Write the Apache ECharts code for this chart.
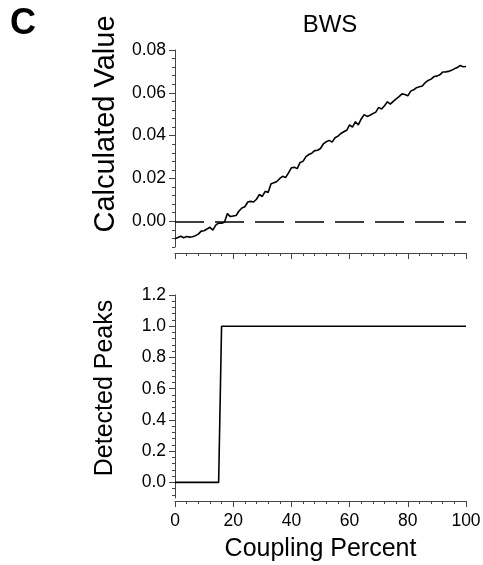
<!DOCTYPE html>
<html>
<head>
<meta charset="utf-8">
<style>
  html, body { margin: 0; padding: 0; background: #fff; }
  #chart { width: 483px; height: 565px; }
</style>
<script src="https://cdn.jsdelivr.net/npm/echarts@6/dist/echarts.min.js"></script>
</head>
<body>
<div id="chart"></div>
<script>
// coupling percent (x) shared by both panels
const couplingPercent = [
  0, 1, 2, 3, 4, 5, 6, 7, 8, 9, 10, 11, 12, 13, 14, 15, 16, 17, 18, 19,
  20, 21, 22, 23, 24, 25, 26, 27, 28, 29, 30, 31, 32, 33, 34, 35, 36, 37, 38, 39,
  40, 41, 42, 43, 44, 45, 46, 47, 48, 49, 50, 51, 52, 53, 54, 55, 56, 57, 58, 59,
  60, 61, 62, 63, 64, 65, 66, 67, 68, 69, 70, 71, 72, 73, 74, 75, 76, 77, 78, 79,
  80, 81, 82, 83, 84, 85, 86, 87, 88, 89, 90, 91, 92, 93, 94, 95, 96, 97, 98, 99, 100
];
// BWS calculated value
const calculatedValue = [
  -0.0081, -0.0076, -0.0070, -0.0077, -0.0071, -0.0074, -0.0072, -0.0067, -0.0060, -0.0046,
  -0.0044, -0.0036, -0.0028, -0.0041, -0.0018, -0.0008, -0.0009, -0.0004, 0.0036, 0.0022,
  0.0025, 0.0027, 0.0048, 0.0062, 0.0068, 0.0090, 0.0093, 0.0090, 0.0103, 0.0125,
  0.0116, 0.0140, 0.0135, 0.0175, 0.0180, 0.0186, 0.0200, 0.0210, 0.0204, 0.0226,
  0.0250, 0.0252, 0.0246, 0.0275, 0.0280, 0.0302, 0.0312, 0.0318, 0.0330, 0.0332,
  0.0340, 0.0362, 0.0372, 0.0378, 0.0370, 0.0390, 0.0398, 0.0410, 0.0418, 0.0425,
  0.0450, 0.0440, 0.0465, 0.0450, 0.0478, 0.0498, 0.0490, 0.0495, 0.0503, 0.0510,
  0.0532, 0.0524, 0.0540, 0.0558, 0.0547, 0.0560, 0.0572, 0.0582, 0.0595, 0.0592,
  0.0586, 0.0608, 0.0614, 0.0624, 0.0628, 0.0632, 0.0648, 0.0658, 0.0664, 0.0676,
  0.0678, 0.0684, 0.0697, 0.0698, 0.0700, 0.0705, 0.0712, 0.0718, 0.0728, 0.0722, 0.0723
];
// detected peaks
const detectedPeaks = [
  0, 0, 0, 0, 0, 0, 0, 0, 0, 0, 0, 0, 0, 0, 0, 0, 1, 1, 1, 1,
  1, 1, 1, 1, 1, 1, 1, 1, 1, 1, 1, 1, 1, 1, 1, 1, 1, 1, 1, 1,
  1, 1, 1, 1, 1, 1, 1, 1, 1, 1, 1, 1, 1, 1, 1, 1, 1, 1, 1, 1,
  1, 1, 1, 1, 1, 1, 1, 1, 1, 1, 1, 1, 1, 1, 1, 1, 1, 1, 1, 1,
  1, 1, 1, 1, 1, 1, 1, 1, 1, 1, 1, 1, 1, 1, 1, 1, 1, 1, 1, 1, 1
];

// tick labels
const xTicks = [0, 20, 40, 60, 80, 100];
const topYTicks = [0, 0.02, 0.04, 0.06, 0.08];
const bottomYTicks = [0, 0.2, 0.4, 0.6, 0.8, 1.0, 1.2];

// minor ticks
const topYMinor = [];
for (let i = -3; i <= 20; i++) topYMinor.push(+(i * 0.004).toFixed(3));
const bottomYMinor = [];
for (let i = -2; i <= 30; i++) bottomYMinor.push(+(i * 0.04).toFixed(2));

const FONT = "Liberation Sans, Arial, Helvetica, sans-serif";
const AXIS_COLOR = "#444";

const chart = echarts.init(document.getElementById("chart"));

function xAxisCfg(gridIndex, offset, showLabel) {
  return {
    gridIndex: gridIndex,
    type: "value",
    position: "bottom",
    min: 0,
    max: 100,
    interval: 20,
    offset: offset,
    axisLine: { show: true, onZero: false, lineStyle: { color: AXIS_COLOR, width: 1 } },
    axisTick: { show: true, length: 6, lineStyle: { color: AXIS_COLOR } },
    minorTick: { show: true, splitNumber: 5, length: 3, lineStyle: { color: AXIS_COLOR } },
    axisLabel: {
      show: showLabel,
      customValues: xTicks,
      color: "#000",
      fontFamily: FONT,
      fontSize: 17.5,
      margin: 11,
    },
    splitLine: { show: false },
  };
}

function yAxisCfg(gridIndex, min, max, ticks, decimals) {
  return {
    gridIndex: gridIndex,
    type: "value",
    position: "left",
    min: min,
    max: max,
    axisLine: { show: true, onZero: false, lineStyle: { color: AXIS_COLOR, width: 1 } },
    axisTick: { show: true, length: 6, customValues: ticks, lineStyle: { color: AXIS_COLOR } },
    axisLabel: {
      customValues: ticks,
      formatter: (v) => v.toFixed(decimals),
      color: "#000",
      fontFamily: FONT,
      fontSize: 17.5,
      margin: 9,
    },
    splitLine: { show: false },
  };
}

function yMinorCfg(gridIndex, min, max, ticks) {
  return {
    gridIndex: gridIndex,
    type: "value",
    position: "left",
    offset: 0,
    min: min,
    max: max,
    axisLine: { show: false, onZero: false },
    axisTick: { show: true, length: 3, customValues: ticks, lineStyle: { color: AXIS_COLOR } },
    axisLabel: { show: false },
    splitLine: { show: false },
  };
}

const option = {
  animation: false,
  backgroundColor: "#fff",
  grid: [
    { left: 175, top: 50, width: 291, height: 197, outerBoundsMode: "none", containLabel: false },
    { left: 175, top: 295, width: 291, height: 203, outerBoundsMode: "none", containLabel: false },
  ],
  xAxis: [
    xAxisCfg(0, 6, false),
    Object.assign(xAxisCfg(1, 3, true), {
      name: "Coupling Percent",
      nameLocation: "middle",
      nameGap: 36,
      nameTextStyle: { color: "#000", fontFamily: FONT, fontSize: 25 },
    }),
  ],
  yAxis: [
    yAxisCfg(0, -0.012, 0.08, topYTicks, 2),
    yMinorCfg(0, -0.012, 0.08, topYMinor),
    yAxisCfg(1, -0.1, 1.2, bottomYTicks, 1),
    yMinorCfg(1, -0.1, 1.2, bottomYMinor),
  ],
  graphic: [
    {
      type: "text",
      left: 10,
      top: 6,
      style: { text: "C", fill: "#000", font: "bold 36px " + FONT },
    },
    {
      type: "text",
      x: 330,
      y: 25,
      style: { text: "BWS", fill: "#000", font: "24px " + FONT, align: "center", verticalAlign: "middle" },
    },
    {
      type: "text",
      x: 106,
      y: 124,
      rotation: Math.PI / 2,
      style: { text: "Calculated Value", fill: "#000", font: "29px " + FONT, align: "center", verticalAlign: "middle" },
    },
    {
      type: "text",
      x: 105,
      y: 388,
      rotation: Math.PI / 2,
      style: { text: "Detected Peaks", fill: "#000", font: "25px " + FONT, align: "center", verticalAlign: "middle" },
    },
  ],
  series: [
    {
      type: "line",
      xAxisIndex: 0,
      yAxisIndex: 0,
      data: couplingPercent.map((x, i) => [x, calculatedValue[i]]),
      showSymbol: false,
      lineStyle: { color: "#000", width: 1.6 },
      markLine: {
        silent: true,
        symbol: "none",
        label: { show: false },
        lineStyle: { color: "#000", width: 1.6, type: [29, 11] },
        data: [{ yAxis: 0 }],
      },
    },
    {
      type: "line",
      xAxisIndex: 1,
      yAxisIndex: 2,
      data: couplingPercent.map((x, i) => [x, detectedPeaks[i]]),
      showSymbol: false,
      lineStyle: { color: "#000", width: 1.6 },
    },
  ],
};

chart.setOption(option);
</script>
</body>
</html>
